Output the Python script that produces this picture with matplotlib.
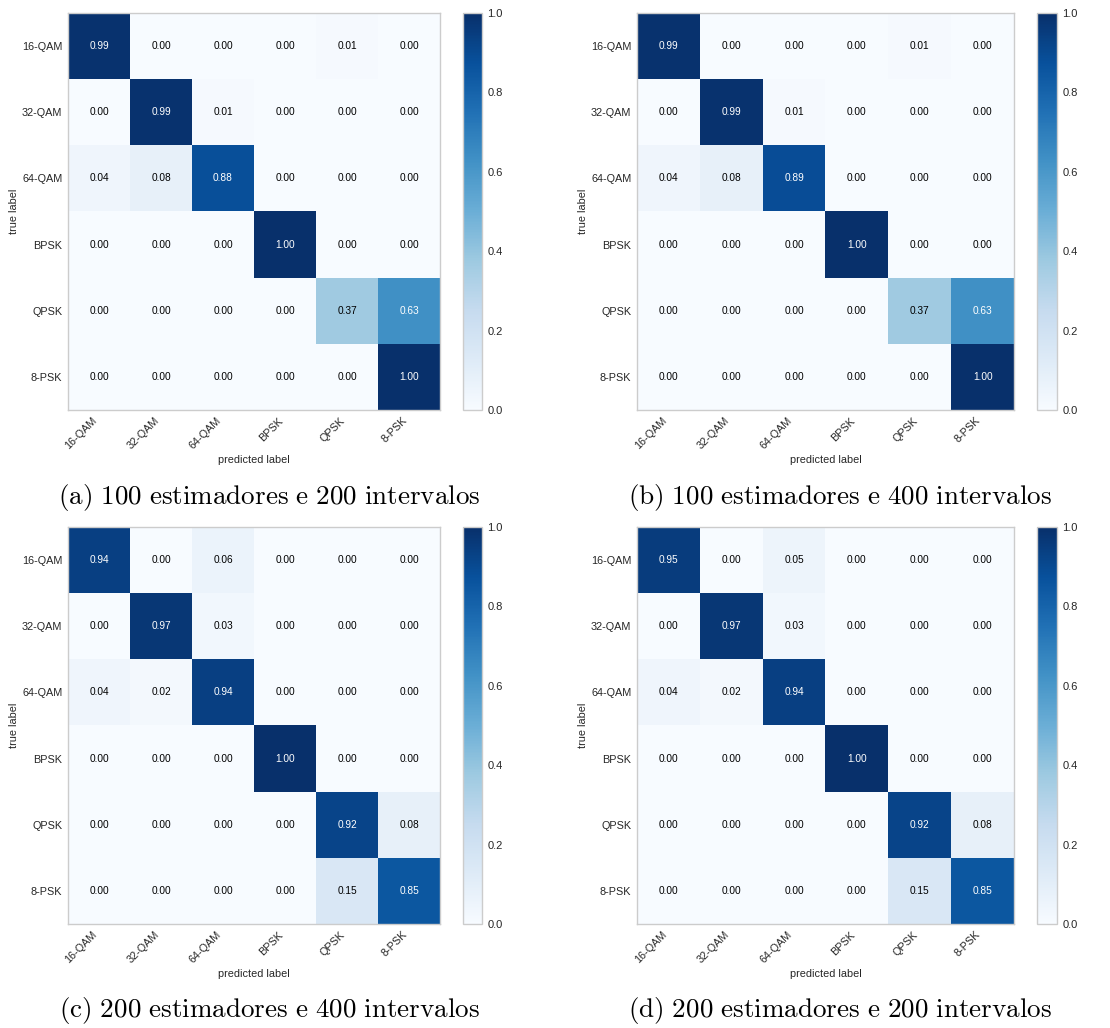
import matplotlib.pyplot as plt
import numpy as np

plt.rcParams['font.family'] = ['Liberation Sans', 'DejaVu Sans']
plt.rcParams['mathtext.fontset'] = 'cm'

labels = ['16-QAM', '32-QAM', '64-QAM', 'BPSK', 'QPSK', '8-PSK']

cm_a = [[0.99, 0.00, 0.00, 0.00, 0.01, 0.00],
        [0.00, 0.99, 0.01, 0.00, 0.00, 0.00],
        [0.04, 0.08, 0.88, 0.00, 0.00, 0.00],
        [0.00, 0.00, 0.00, 1.00, 0.00, 0.00],
        [0.00, 0.00, 0.00, 0.00, 0.37, 0.63],
        [0.00, 0.00, 0.00, 0.00, 0.00, 1.00]]
cm_b = [[0.99, 0.00, 0.00, 0.00, 0.01, 0.00],
        [0.00, 0.99, 0.01, 0.00, 0.00, 0.00],
        [0.04, 0.08, 0.89, 0.00, 0.00, 0.00],
        [0.00, 0.00, 0.00, 1.00, 0.00, 0.00],
        [0.00, 0.00, 0.00, 0.00, 0.37, 0.63],
        [0.00, 0.00, 0.00, 0.00, 0.00, 1.00]]
cm_c = [[0.94, 0.00, 0.06, 0.00, 0.00, 0.00],
        [0.00, 0.97, 0.03, 0.00, 0.00, 0.00],
        [0.04, 0.02, 0.94, 0.00, 0.00, 0.00],
        [0.00, 0.00, 0.00, 1.00, 0.00, 0.00],
        [0.00, 0.00, 0.00, 0.00, 0.92, 0.08],
        [0.00, 0.00, 0.00, 0.00, 0.15, 0.85]]
cm_d = [[0.95, 0.00, 0.05, 0.00, 0.00, 0.00],
        [0.00, 0.97, 0.03, 0.00, 0.00, 0.00],
        [0.04, 0.02, 0.94, 0.00, 0.00, 0.00],
        [0.00, 0.00, 0.00, 1.00, 0.00, 0.00],
        [0.00, 0.00, 0.00, 0.00, 0.92, 0.08],
        [0.00, 0.00, 0.00, 0.00, 0.15, 0.85]]

captions = ['(a) 100 estimadores e 200 intervalos',
            '(b) 100 estimadores e 400 intervalos',
            '(c) 200 estimadores e 400 intervalos',
            '(d) 200 estimadores e 200 intervalos']

W, H = 1110, 1028
fig = plt.figure(figsize=(W / 100, H / 100), dpi=100)

# pixel boxes: (left, top, right, bottom) of heatmap, colorbar x-range
boxes = [(68, 13, 440, 410, 463, 482),
         (637, 13, 1014, 410, 1037, 1057),
         (68, 527, 440, 924, 463, 482),
         (637, 527, 1014, 924, 1037, 1057)]
cap_y = [497, 497, 1010, 1010]
cap_x = [269, 840, 269, 840]

edge = '#cccccc'
txt = '#262626'

for k, cm in enumerate([cm_a, cm_b, cm_c, cm_d]):
    l, t, r, b, cl, cr = boxes[k]
    ax = fig.add_axes([l / W, 1 - b / H, (r - l) / W, (b - t) / H])
    cax = fig.add_axes([cl / W, 1 - b / H, (cr - cl) / W, (b - t) / H])
    m = np.array(cm)
    im = ax.imshow(m, cmap='Blues', vmin=0, vmax=1, aspect='auto', interpolation='nearest')
    for i in range(m.shape[0]):
        for j in range(m.shape[1]):
            ax.text(j, i, format(m[i, j], '.2f'), ha='center', va='center',
                    fontsize=7.3, color='white' if m[i, j] > 0.5 else 'black')
    ax.set_xticks(range(len(labels)))
    ax.set_yticks(range(len(labels)))
    ax.set_xticklabels(labels, rotation=45, ha='right', fontsize=7.8, color=txt)
    ax.set_yticklabels(labels, fontsize=7.8, color=txt)
    ax.tick_params(length=0, pad=4)
    ax.set_xlabel('predicted label', fontsize=7.8, color=txt, labelpad=3)
    ax.set_ylabel('true label', fontsize=7.8, color=txt, labelpad=2)
    for s in ax.spines.values():
        s.set_color(edge)
        s.set_linewidth(1.0)
    cb = fig.colorbar(im, cax=cax)
    cb.outline.set_edgecolor(edge)
    cb.outline.set_linewidth(1.0)
    cb.set_ticks([0.0, 0.2, 0.4, 0.6, 0.8, 1.0])
    cb.ax.tick_params(length=0, labelsize=8, labelcolor=txt, pad=4)
    fig.text(cap_x[k] / W, 1 - cap_y[k] / H, captions[k].replace(' ', r'\ ').join(['$\\mathrm{', '}$']),
             ha='center', va='center', fontsize=19.5)

fig.savefig('out.png', dpi=100)
